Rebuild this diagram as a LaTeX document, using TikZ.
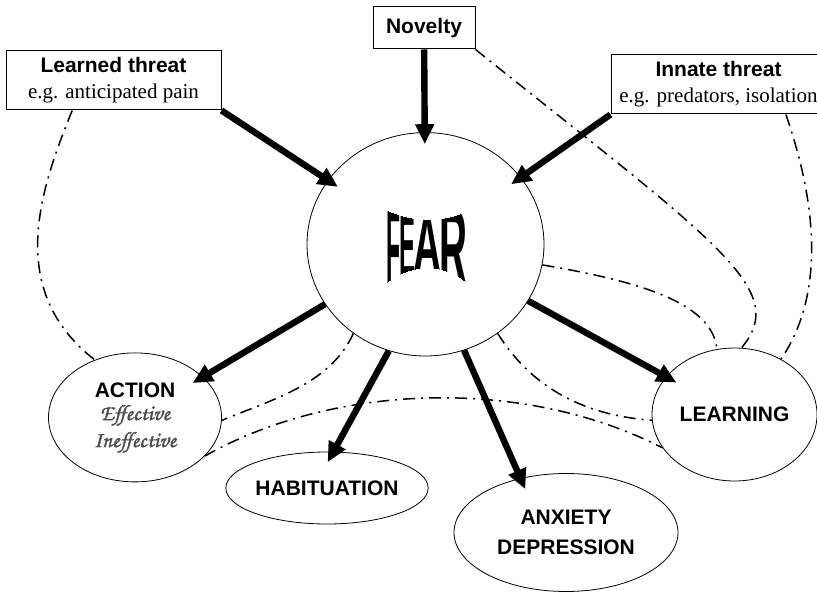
\documentclass[tikz,border=0pt]{standalone}
\usepackage{fontspec}
\setmainfont{Liberation Serif}
\setsansfont{Liberation Sans}
\newfontfamily\chanc[FakeBold=1.6]{texgyrechorus-mediumitalic.otf}
\usepackage{graphicx}
\usepackage{tikz}
\usetikzlibrary{shapes.geometric,arrows.meta}

\begin{document}
\begin{tikzpicture}[x=0.5pt,y=-0.5pt,
		font=\fontsize{10.5}{13}\selectfont,
		box/.style={
			draw,
			line width=0.5pt,
			minimum width=107.5pt,
			minimum height=29.5pt,
			inner sep=0pt,
			align=center
		},
		oval/.style={
			draw,
			ellipse,
			line width=0.4pt,
			inner sep=0pt,
			align=center,
			font=\fontsize{10.5}{13}\selectfont\sffamily\bfseries
		},
		push/.style={
			line width=3.2pt,
			-{Triangle[length=10pt,width=9pt]},
			shorten >=-6pt
		},
		link/.style={
			line width=0.75pt,
			dash pattern=on 6pt off 3pt on 1pt off 3pt
		}
		]
		\useasboundingbox (0,0) rectangle (817,592);
		
		\node[box, minimum width=51pt, minimum height=21pt] (novelty) at (424,28) {\sffamily\bfseries Novelty};
		\node[box] (learned) at (113.5,80.5) {{\sffamily\bfseries Learned threat}\\ e.g. anticipated pain};
		\node[box] (innate) at (718.5,84.5) {{\sffamily\bfseries Innate threat}\\ e.g. predators, isolation};
		
		\node[oval, minimum width=118.5pt, minimum height=111.7pt] (fear) at (425.5,244.3) {};
		\begin{scope}
		\clip (384,209) .. controls (410,223) and (445,223) .. (469,210) -- (469,285) .. controls (445,262) and (410,262) .. (384,285) -- cycle;
		\foreach \l/\x/\y/\w/\h in {F/393/247/7/38, E/407.5/245.5/8/30.5, A/427.5/244.5/14/27.5, R/453.5/247.5/14/37.5}
		\node[inner sep=0pt, font=\fontsize{10.5}{13}\selectfont\sffamily\bfseries] (fear\l) at (\x,\y) {\resizebox{\w pt}{\h pt}{\l}};
		\end{scope}
		
		\node[oval, minimum width=86.5pt, minimum height=64.5pt] (action) at (135,417.4) 
		{ACTION\\[-1.5pt]{\fontsize{11}{13}\chanc\color{black!70}Effective}\\[0.5pt]{\fontsize{11}{13}\chanc\color{black!70}Ineffective}};
		\node[oval, minimum width=100pt, minimum height=36pt] (habit) at (327,488) {HABITUATION};
		\node[oval, minimum width=112pt, minimum height=59pt, font=\fontsize{10.5}{15}\selectfont\sffamily\bfseries] 
		(anxiety) at (566,532.5) {ANXIETY\\DEPRESSION};
		\node[oval, minimum width=82.5pt, minimum height=66.5pt] (learning) at (734.5,414.5) {LEARNING};
		
		\draw[push] (novelty) -- (fear);
		\draw[push] (learned.south east) -- (fear);
		\draw[push] (innate.south west) -- (fear);
		\draw[push] (fear) -- (action);
		\draw[push] (fear.251) -- (habit.80);
		\draw[push] (fear.290) -- (anxiety.130);
		\draw[push] (fear) -- (learning);
		
		\draw[link] (learned.216) .. controls (40,190) and (5,290) .. (action.125);
		\draw[link] (novelty.south east) .. controls (720,245) and (790,290) .. (learning.84);
		\draw[link] (innate.336) .. controls (805,170) and (835,280) .. (learning.50);
		\draw[link] (fear.350) .. controls (630,280) and (712,300) .. (learning.105);
		\draw[link] (fear.231) .. controls (330,385) and (270,400) .. (action.358);
		\draw[link] (action.331) .. controls (330,385) and (520,375) .. (learning.205);
		\draw[link] (fear.309) .. controls (530,385) and (580,415) .. (learning.184);
		
		\end{tikzpicture}
\end{document}
